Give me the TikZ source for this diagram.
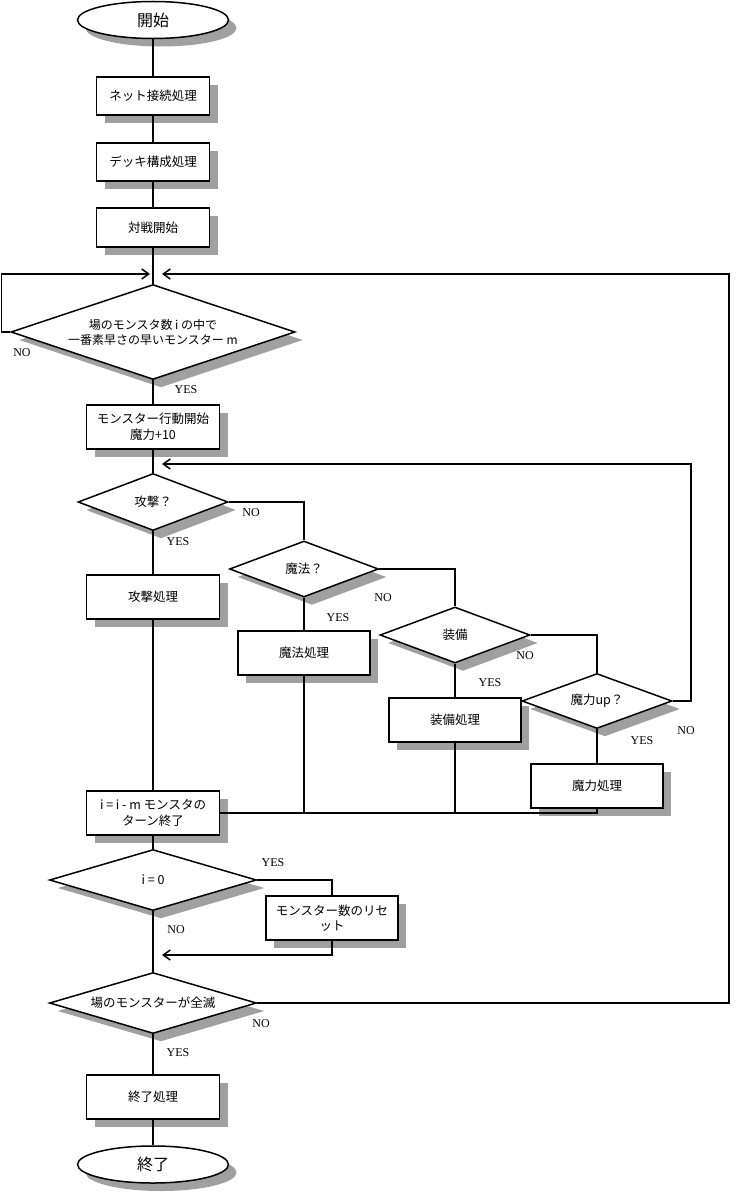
\documentclass[tikz,border=0pt]{standalone}
\usepackage{fontspec}
\setmainfont{Noto Sans CJK JP}
\newfontfamily\labfont{Liberation Serif}
\usetikzlibrary{shapes.geometric,arrows.meta,shadows}
\definecolor{shadowgray}{RGB}{160,160,160}
\begin{document}
\begin{tikzpicture}[x=1pt,y=-1pt,line width=1.5pt,
  shd/.style={general shadow={fill=shadowgray,draw=none,shadow xshift=8pt,shadow yshift=-8pt}},
  proc/.style={draw,fill=white,rectangle,minimum width=133pt,minimum height=44pt,inner sep=0pt,align=center,font=\fontsize{12.5}{15.5}\selectfont,shd},
  dec/.style={draw,fill=white,diamond,inner sep=0pt,align=center,font=\fontsize{12.5}{15.5}\selectfont,shd},
  term/.style={draw,fill=white,ellipse,minimum width=151pt,minimum height=37pt,inner sep=0pt,font=\fontsize{16}{18}\selectfont,shd},
  lab/.style={font=\labfont\fontsize{12}{13}\selectfont,inner sep=0pt},
  arr/.style={-{Straight Barb[length=7pt,width=10pt]}}
]
\useasboundingbox[fill=white] (0,0) rectangle (750,1193);

% nodes
\node[term] (start) at (153,20) {開始};
\node[proc,minimum width=113pt,minimum height=38pt] (p1) at (153,96) {ネット接続処理};
\node[proc,minimum width=113pt,minimum height=38pt] (p2) at (153,162) {デッキ構成処理};
\node[proc,minimum width=113pt,minimum height=39pt] (p3) at (153,227.5) {対戦開始};
\node[dec,minimum width=284pt,minimum height=95pt,aspect=3,font=\fontsize{12}{15}\selectfont] (d1) at (153,332) {場のモンスタ数 i の中で\\一番素早さの早いモンスター m};
\node[proc] (p4) at (153,427) {モンスター行動開始\\魔力+10};
\node[dec,minimum width=150pt,minimum height=57pt,aspect=2.6] (d2) at (153,502) {攻撃？};
\node[proc] (pa) at (153,597) {攻撃処理};
\node[dec,minimum width=149pt,minimum height=56pt,aspect=2.6] (d3) at (304,569) {魔法？};
\node[proc,minimum width=132pt] (pb) at (304,653) {魔法処理};
\node[dec,minimum width=150pt,minimum height=56pt,aspect=2.6] (d4) at (455,635) {装備};
\node[proc,minimum width=132pt] (pc) at (455,720) {装備処理};
\node[dec,minimum width=150pt,minimum height=55pt,aspect=2.7] (d5) at (597,701) {魔力up？};
\node[proc,minimum width=132pt] (pd) at (597,786) {魔力処理};
\node[proc] (pe) at (153,813) {i = i - m モンスタの\\ターン終了};
\node[dec,minimum width=207pt,minimum height=61pt,aspect=3.4] (d6) at (153,880) {i = 0};
\node[proc,minimum width=132pt] (pf) at (332,918) {モンスター数のリセ\\ット};
\node[dec,minimum width=207pt,minimum height=61pt,aspect=3.4] (d7) at (153,1003) {場のモンスターが全滅};
\node[proc] (pg) at (153,1097) {終了処理};
\node[term] (end) at (153,1164.5) {終了};

% junction coordinates
\coordinate (jL) at (150,274);
\coordinate (jR) at (162,274);
\coordinate (j2) at (162,464);
\coordinate (j3) at (162,955);

% main spine
\draw (start) -- (p1);
\draw (p1) -- (p2);
\draw (p2) -- (p3);
\draw (p3) -- (d1.north);
\draw (d1.south) -- (p4);
\draw (p4) -- (d2.north);
\draw (d2.south) -- (pa);
\draw (pa) -- (pe);
\draw (pe) -- (d6.north);
\draw (d6.south) -- (d7.north);
\draw (d7.south) -- (pg);
\draw (pg) -- (end);

% outer loops
\draw[arr] (d1.west) -- (1.5,332) -- (1.5,274) -- (jL);
\draw[arr] (d7.east) -- (729,1003) -- (729,274) -- (jR);
\draw[arr] (d5.east) -- (691,701) -- (691,464) -- (j2);

% decision chain
\draw (d2.east) -| (d3.north);
\draw (d3.south) -- (pb);
\draw (d3.east) -| (d4.north);
\draw (d4.south) -- (pc);
\draw (d4.east) -| (d5.north);
\draw (d5.south) -- (pd);

% merge
\draw (pd.south) -- (597,813) -- (pe.east);
\draw (pb.south) -- (304,813);
\draw (pc.south) -- (455,813);

% reset branch
\draw (d6.east) -| (pf.north);
\draw[arr] (pf.south) -- (332,955) -- (j3);

% labels
\node[lab] (l1) at (22,353) {NO};
\node[lab] (l2) at (186,390) {YES};
\node[lab] (l3) at (251,513) {NO};
\node[lab] (l4) at (178,542) {YES};
\node[lab] (l5) at (383,598) {NO};
\node[lab] (l6) at (338,618) {YES};
\node[lab] (l7) at (525,656) {NO};
\node[lab] (l8) at (490,683) {YES};
\node[lab] (l9) at (642,741) {YES};
\node[lab] (l10) at (686,731) {NO};
\node[lab] (l11) at (273,863) {YES};
\node[lab] (l12) at (176,930) {NO};
\node[lab] (l13) at (261,1024) {NO};
\node[lab] (l14) at (178,1053) {YES};
\end{tikzpicture}
\end{document}
